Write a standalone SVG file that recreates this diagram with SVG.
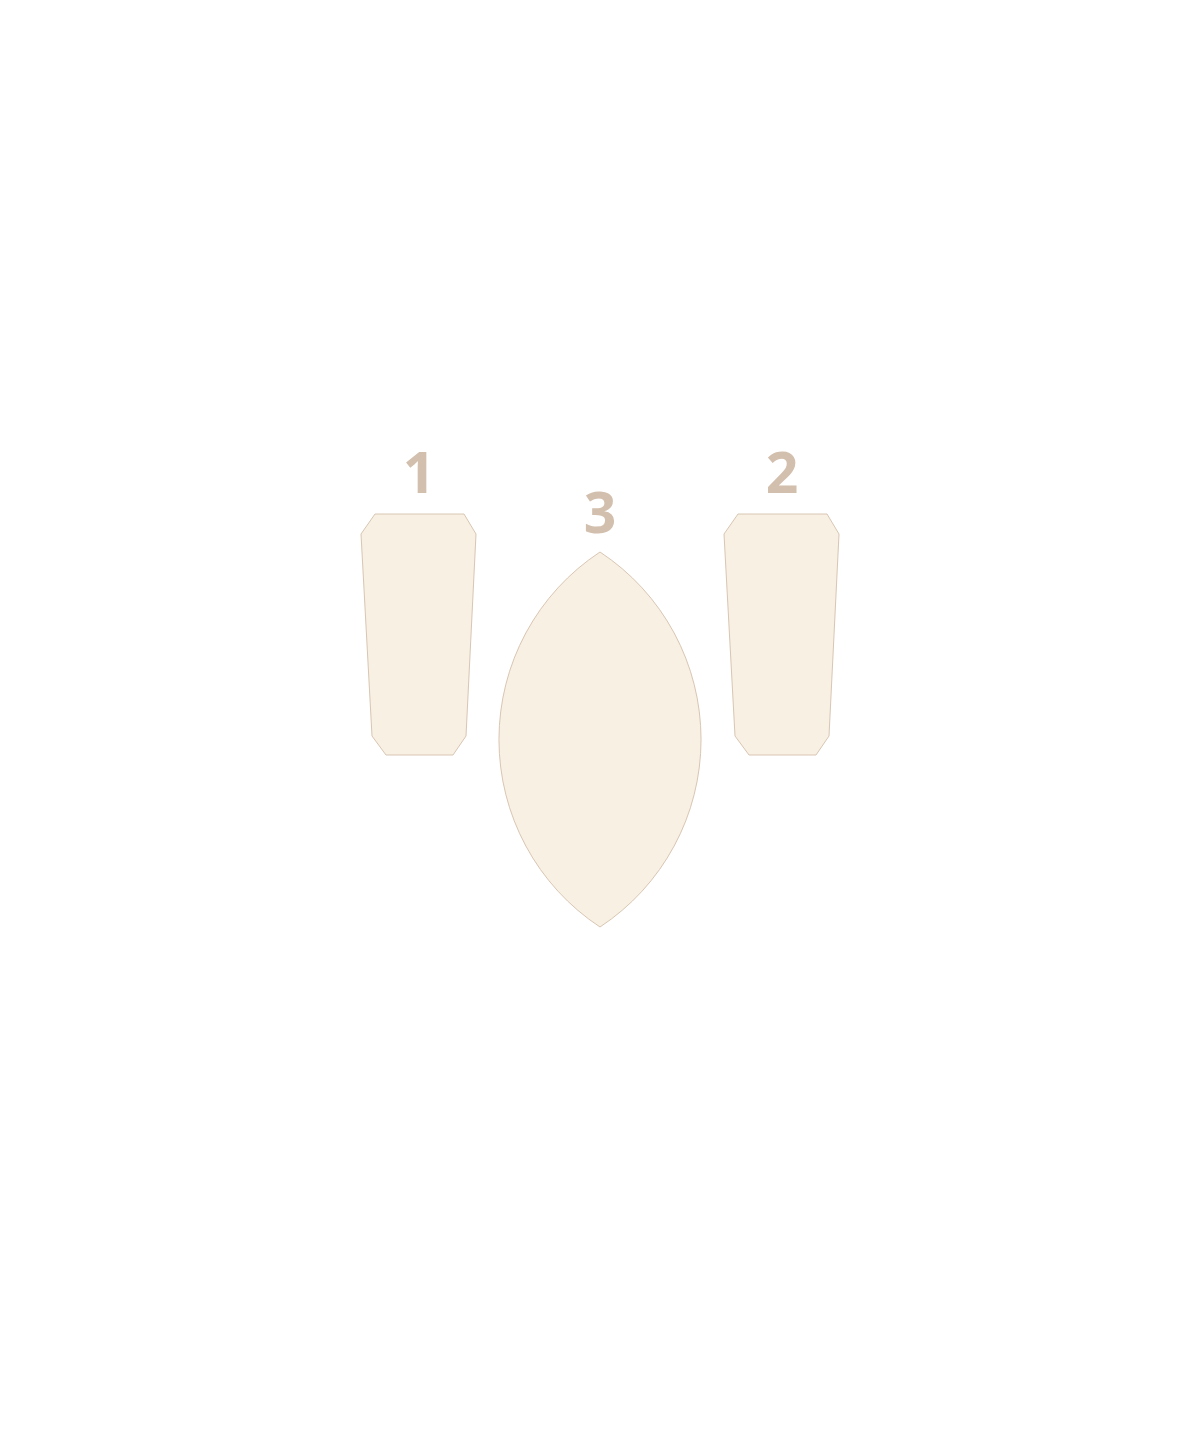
<svg xmlns="http://www.w3.org/2000/svg" width="1200" height="1440" viewBox="0 0 1200 1440">
<style>
.shape{fill:#f7f0e3;stroke:#d9c6b3;stroke-width:1}
.lbl{font-family:"Open Sans","Liberation Sans",sans-serif;font-weight:700;font-size:57px;fill:#d2bfad;text-anchor:middle}
</style>
<rect width="1200" height="1440" fill="#ffffff"/>
<g id="node1">
<polygon class="shape" points="375,514 464,514 476,534 466,736 453,755 386,755 372,736 361,534"/>
<text class="lbl" x="419" y="493">1</text>
</g>
<g id="node2">
<polygon class="shape" points="738,514 827,514 839,534 829,736 816,755 749,755 735,736 724,534"/>
<text class="lbl" x="782" y="493">2</text>
</g>
<g id="node3">
<path class="shape" d="M600,552 A224.5,224.5 0 0 0 600,927 A224.5,224.5 0 0 0 600,552 Z"/>
<text class="lbl" x="600" y="533">3</text>
</g>
<g id="connectors"></g>
</svg>
